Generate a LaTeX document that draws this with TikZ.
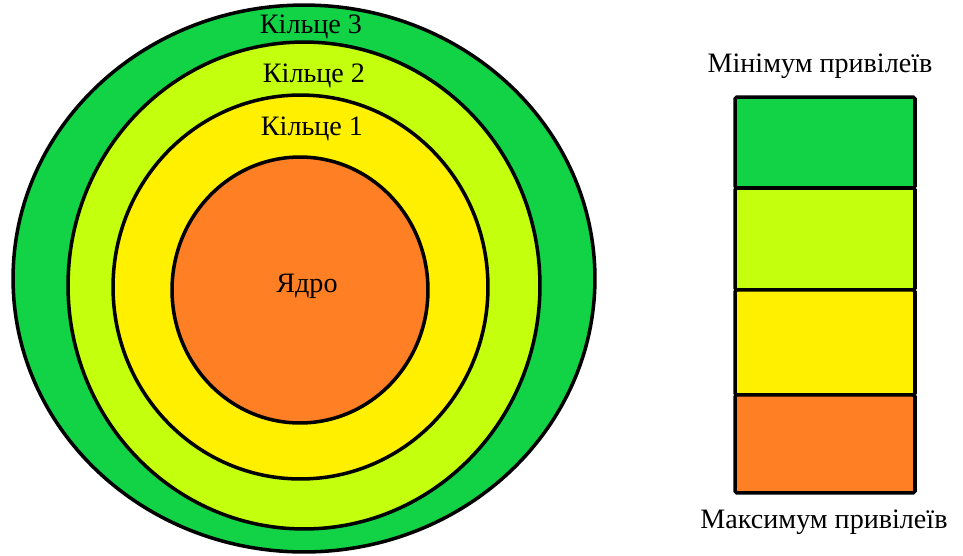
\documentclass[tikz,border=0pt]{standalone}
\usepackage{fontspec}
\setmainfont{Liberation Serif}
\newfontfamily\ringfont{Liberation Serif}
\usetikzlibrary{positioning}

\definecolor{ringgreen}{RGB}{18,210,70}
\definecolor{ringlime}{RGB}{196,255,14}
\definecolor{ringyellow}{RGB}{255,240,0}
\definecolor{coreorange}{RGB}{255,127,36}

\tikzset{
  ringline/.style={line width=2pt},
  lvlbox/.style={draw, line width=2pt, outer sep=0pt, inner sep=0pt,
    minimum width=3.6cm, rounded corners=1pt},
}

\begin{document}
\begin{tikzpicture}[x=0.02cm, y=-0.02cm, every node/.style={font=\ringfont\fontsize{16pt}{18pt}\selectfont}]
  \useasboundingbox (0,0) rectangle (963,555);
  \clip (0,0) rectangle (963,555);

  %% Left: rings round the core
  \draw[ringline, fill=ringgreen] (304,278.5) ellipse [x radius=5.82cm, y radius=5.47cm];
  \draw[ringline, fill=ringlime] (304,285.5) ellipse [x radius=4.72cm, y radius=4.87cm];
  \draw[ringline, fill=ringyellow] (300.5,287) ellipse [x radius=3.75cm, y radius=3.84cm];
  \draw[ringline, fill=coreorange] (300,290) ellipse [x radius=2.56cm, y radius=2.66cm];

  % ring labels
  \node[anchor=base] (ring3) at (311,33) {Кільце 3};
  \node[anchor=base] (ring2) at (314,82) {Кільце 2};
  \node[anchor=base] (ring1) at (312,135) {Кільце 1};
  \node[anchor=base] (core) at (307,292) {Ядро};

  %% Right: privilege scale
  \node[lvlbox, fill=ringgreen, minimum height=1.82cm] (lvl3) at (825,142.5) {};
  \node[lvlbox, fill=ringlime, minimum height=2.04cm, below=0pt of lvl3] (lvl2) {};
  \node[lvlbox, fill=ringyellow, minimum height=2.1cm, below=0pt of lvl2] (lvl1) {};
  \node[lvlbox, fill=coreorange, minimum height=1.96cm, below=0pt of lvl1] (lvl0) {};

  \node[anchor=base] (minpriv) at (820,72) {Мінімум привілеїв};
  \node[anchor=base] (maxpriv) at (824,528) {Максимум привілеїв};

\end{tikzpicture}
\end{document}
